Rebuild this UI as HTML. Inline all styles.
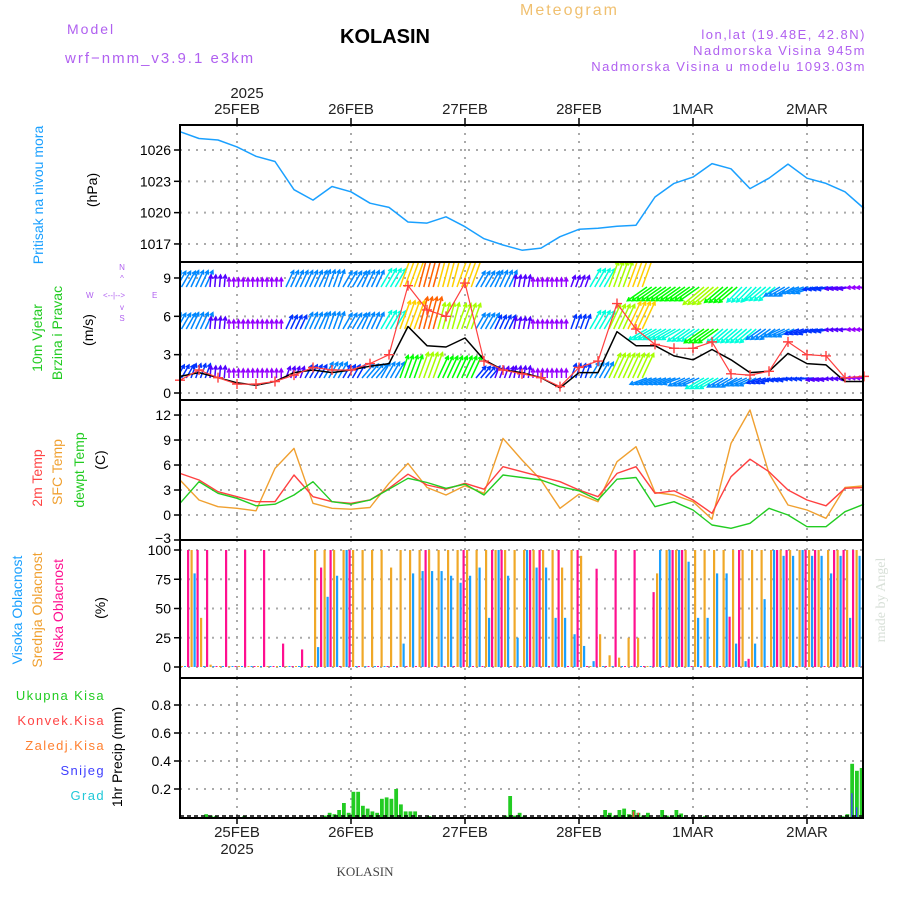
<!DOCTYPE html>
<html><head><meta charset="utf-8"><style>
html,body{margin:0;padding:0;background:#fff;}
svg{display:block;font-family:"Liberation Sans",sans-serif;}
</style></head><body>
<svg id="chart" width="900" height="900" viewBox="0 0 900 900" xmlns="http://www.w3.org/2000/svg">
<defs><clipPath id="windclip"><rect x="181" y="263" width="681" height="136"/></clipPath></defs>
<rect x="0" y="0" width="900" height="900" fill="#fff"/>
<text x="67" y="34" font-size="14" fill="#b060f0" letter-spacing="2">Model</text>
<text x="65" y="63" font-size="15" fill="#b060f0" letter-spacing="2">wrf−nmm_v3.9.1 e3km</text>
<text x="385" y="43" font-size="20" font-weight="bold" fill="#000" text-anchor="middle">KOLASIN</text>
<text x="520" y="15" font-size="16" fill="#f0c070" letter-spacing="2">Meteogram</text>
<text x="866" y="39" font-size="13" fill="#b060f0" text-anchor="end" letter-spacing="1.5">lon,lat (19.48E, 42.8N)</text>
<text x="866" y="55" font-size="13" fill="#b060f0" text-anchor="end" letter-spacing="1.5">Nadmorska Visina 945m</text>
<text x="866" y="71" font-size="13" fill="#b060f0" text-anchor="end" letter-spacing="1.5">Nadmorska Visina u modelu 1093.03m</text>
<text x="247" y="98" font-size="15" fill="#222" text-anchor="middle">2025</text>
<text x="365" y="876" font-size="13" fill="#444" text-anchor="middle" font-family="Liberation Serif,serif">KOLASIN</text>
<text x="0" y="0" font-size="14" fill="#d8e0d8" text-anchor="middle" font-family="Liberation Serif,serif" transform="translate(885,600) rotate(-90)">made by Angel</text>
<g id="labels">
<text transform="translate(43,195) rotate(-90)" font-size="14" fill="#1aa0ff" text-anchor="middle">Pritisak na nivou mora</text>
<text transform="translate(97,190) rotate(-90)" font-size="14" fill="#000" text-anchor="middle">(hPa)</text>
<text transform="translate(42,338) rotate(-90)" font-size="14" fill="#22cc22" text-anchor="middle">10m Vjetar</text>
<text transform="translate(62,333) rotate(-90)" font-size="14" fill="#22cc22" text-anchor="middle">Brzina i Pravac</text>
<text transform="translate(93,330) rotate(-90)" font-size="14" fill="#000" text-anchor="middle">(m/s)</text>
<g font-size="8" fill="#b060f0">
<text x="122" y="270" text-anchor="middle">N</text><text x="122" y="281" text-anchor="middle">^</text>
<text x="86" y="298">W</text><text x="103" y="298">&lt;--|--&gt;</text><text x="152" y="298">E</text>
<text x="122" y="310" text-anchor="middle">v</text><text x="122" y="321" text-anchor="middle">S</text>
</g>
<text transform="translate(42,478) rotate(-90)" font-size="14" fill="#ff4444" text-anchor="middle">2m Temp</text>
<text transform="translate(62,472) rotate(-90)" font-size="14" fill="#f0a030" text-anchor="middle">SFC Temp</text>
<text transform="translate(84,470) rotate(-90)" font-size="14" fill="#22cc22" text-anchor="middle">dewpt Temp</text>
<text transform="translate(105,460) rotate(-90)" font-size="14" fill="#000" text-anchor="middle">(C)</text>
<text transform="translate(22,610) rotate(-90)" font-size="14" fill="#1aa0ff" text-anchor="middle">Visoka Oblacnost</text>
<text transform="translate(42,610) rotate(-90)" font-size="14" fill="#f0a030" text-anchor="middle">Srednja Oblacnost</text>
<text transform="translate(63,610) rotate(-90)" font-size="14" fill="#ff1090" text-anchor="middle">Niska Oblacnost</text>
<text transform="translate(105,608) rotate(-90)" font-size="14" fill="#000" text-anchor="middle">(%)</text>
<text x="105" y="700" font-size="13" fill="#22cc22" text-anchor="end" letter-spacing="1.4">Ukupna Kisa</text>
<text x="105" y="725" font-size="13" fill="#ff4444" text-anchor="end" letter-spacing="1.4">Konvek.Kisa</text>
<text x="105" y="750" font-size="13" fill="#ff8030" text-anchor="end" letter-spacing="1.4">Zaledj.Kisa</text>
<text x="105" y="775" font-size="13" fill="#4040ff" text-anchor="end" letter-spacing="1.4">Snijeg</text>
<text x="105" y="800" font-size="13" fill="#20c8d8" text-anchor="end" letter-spacing="1.4">Grad</text>
<text transform="translate(122,757) rotate(-90)" font-size="14" fill="#000" text-anchor="middle">1hr Precip (mm)</text>
</g>
</svg>
<script>
// ---- data ----
const dayLabels = ["25FEB","26FEB","27FEB","28FEB","1MAR","2MAR"];
const pressure = [1027.75,1027.1,1026.96,1026.3,1025.4,1024.9,1022.2,1021.2,1022.5,1022.0,1020.9,1020.5,1019.1,1019.0,1019.6,1018.65,1017.5,1016.9,1016.4,1016.6,1017.7,1018.4,1018.5,1018.7,1018.8,1021.5,1022.8,1023.4,1024.7,1024.2,1022.3,1023.3,1024.65,1023.3,1022.8,1022.0,1020.4];
const pressureTicks = [1017,1020,1023,1026];
const wind10m = [1.3,1.6,1.2,0.8,0.6,0.9,1.6,1.8,1.6,1.8,2.1,2.3,5.2,3.7,3.6,4.3,2.6,1.8,1.6,1.2,0.4,1.6,1.6,4.8,3.7,3.7,2.9,2.6,3.4,2.6,1.6,1.7,3.1,2.3,2.2,0.9,0.9];
const gust = [1.0,1.8,1.2,0.7,0.7,0.9,1.4,2.0,1.8,1.8,2.3,3.0,8.4,6.5,6.0,8.6,2.5,1.8,1.5,1.2,0.5,2.0,2.5,7.0,5.0,3.8,3.5,3.5,4.0,1.5,1.4,1.7,4.0,3.0,2.9,1.2,1.3];
const windTicks = [0,3,6,9];
const dirTop = [30,25,5,0,0,0,25,25,20,30,25,30,20,15,15,20,30,25,10,0,0,20,30,20,20,235,235,235,230,230,225,230,240,250,260,260,265];
const spdTop = [4,4,2,1,1,1,4,4,4,4,4,5,8,9,8,8,4,4,2,1,1,2,5,7,8,6,6,6,7,6,5,5,4,4,3,2,1];
const dirMid = [30,25,5,0,0,0,25,25,20,30,25,30,20,15,15,20,30,25,10,0,0,20,30,25,25,240,240,235,235,230,230,235,245,250,260,265,265];
const spdMid = [4,4,2,1,1,1,3,4,4,4,4,5,8,9,7,7,4,3,2,1,1,3,5,7,8,5,5,5,6,5,5,4,4,3,3,2,1];
const dirBot = [30,20,5,0,0,0,20,30,30,30,40,30,20,20,25,25,40,20,10,0,0,20,30,25,25,250,250,245,240,240,245,250,260,265,260,265,270];
const spdBot = [3,3,2,1,1,1,2,3,4,3,4,4,6,7,6,6,3,2,2,1,1,3,4,7,7,4,4,4,5,4,4,3,3,3,2,2,1];
const temp2m = [5.0,4.2,2.8,2.2,1.6,1.6,4.8,2.2,1.6,1.4,1.8,3.2,4.9,3.6,3.1,3.8,3.1,5.8,5.2,4.6,4.0,3.0,2.2,5.0,5.8,2.6,2.9,1.8,0.2,4.6,6.7,5.2,3.0,1.8,1.1,3.2,3.3];
const tempSfc = [4.2,1.8,1.0,0.8,0.5,5.6,8.0,1.4,0.8,0.7,0.9,3.8,6.2,3.3,2.4,3.5,2.6,9.2,6.6,4.2,0.8,2.5,1.6,6.4,8.2,2.7,2.4,1.6,-0.5,8.6,12.6,5.0,1.2,0.6,-0.4,3.3,3.5];
const dewpt = [1.4,4.0,2.6,2.0,1.1,1.3,2.4,4.0,1.6,1.3,1.8,3.1,4.4,3.9,3.2,3.7,2.4,4.8,4.5,4.2,3.4,2.9,1.8,4.3,4.5,1.0,1.6,0.6,-1.2,-1.6,-1.0,0.8,0,-1.4,-1.4,0.4,1.3];
const tempTicks = [-3,0,3,6,9,12];
const cloudLow = [100,100,100,0,100,0,100,0,100,0,20,0,15,0,85,100,0,100,0,0,0,0,0,0,0,100,0,0,0,100,0,0,100,100,0,0,100,100,0,100,0,100,0,84,0,100,0,100,0,64,0,100,100,0,0,0,0,43,100,7,0,0,100,100,0,100,100,0,100,100,100,0];
const cloudMid = [0,100,42,2,0,0,0,0,0,0,0,0,0,0,100,100,100,100,100,100,100,100,85,100,100,100,100,100,100,100,100,100,100,100,100,100,100,100,100,100,85,100,95,0,28,10,8,25,25,0,80,100,100,100,100,100,100,100,100,100,100,100,100,100,100,100,100,100,100,100,100,100];
const cloudHigh = [0,80,0,0,0,0,0,0,0,0,0,0,0,0,17,60,78,100,0,0,0,0,0,20,80,82,82,82,78,72,78,85,42,100,78,25,100,85,85,42,42,28,18,5,0,0,0,0,0,0,100,100,100,90,42,42,80,80,20,5,20,58,100,95,95,100,95,95,80,95,42,95];
const cloudTicks = [0,25,50,75,100];
const precipTotal = [0,0,0,0,0,0.02,0.01,0.005,0,0,0,0,0,0.005,0,0,0,0,0,0,0,0,0,0,0,0,0,0,0,0,0.01,0.03,0.02,0.05,0.1,0.03,0.18,0.18,0.08,0.06,0.04,0.03,0.13,0.14,0.13,0.2,0.09,0.04,0.04,0.04,0,0,0.005,0,0,0,0,0,0,0,0,0,0,0,0,0,0,0,0.01,0.15,0.01,0.03,0.005,0,0,0,0,0,0,0,0,0,0,0,0,0,0,0,0,0.05,0.03,0.01,0.05,0.06,0.02,0.05,0.03,0.01,0.03,0,0,0.05,0.01,0.01,0.05,0.025,0,0,0,0,0.005,0,0,0,0,0,0,0,0,0,0,0,0,0,0,0,0,0,0,0,0,0,0,0,0,0,0,0,0,0.005,0.02,0.38,0.33,0.35];
const precipConv = {95:0.04,96:0.03};
const precipSnow = {141:0.17,142:0.07};
const precipTicks = [0.2,0.4,0.6,0.8];

// ---- layout ----
const svg = document.getElementById('chart');
const NS = 'http://www.w3.org/2000/svg';
const X0 = 180, X1 = 863, PXH = 4.75;
function xh(h){ return X0 + h*PXH; }
function mk(tag, attrs, parent){ const e=document.createElementNS(NS,tag); for(const k in attrs) e.setAttribute(k,attrs[k]); (parent||svg).appendChild(e); return e; }
const panels = [
  {top:125,bot:262, y:v=>150+(1026-v)*10.44, ticks:pressureTicks, fmt:v=>String(v), name:'pressure'},
  {top:262,bot:400, y:v=>393-v*12.78, ticks:windTicks, fmt:v=>String(v), name:'wind'},
  {top:400,bot:540, y:v=>515-v*8.33, ticks:tempTicks, fmt:v=>v<0?'−'+(-v):String(v), name:'temp'},
  {top:540,bot:678, y:v=>667-v*1.17, ticks:cloudTicks, fmt:v=>String(v), name:'cloud'},
  {top:678,bot:818, y:v=>817-v*140, ticks:precipTicks, fmt:v=>String(v), name:'precip'}
];
const gridG = mk('g',{});


panels.forEach(p=>{
  dayLabels.forEach((d,i)=>{
    const x = xh(12+24*i);
    const l = mk('line',{x1:x,x2:x,y1:p.top,y2:p.bot,stroke:'#aaa','stroke-width':2,'stroke-dasharray':'2,6'},gridG);
    
    
  });
  p.ticks.forEach(v=>{
    const y = p.y(v);
    const l = mk('line',{x1:X0,x2:X1,y1:y,y2:y,stroke:'#aaa','stroke-width':2,'stroke-dasharray':'2,6'},gridG);
    
    
    const tk = mk('line',{x1:X0-6,x2:X0,y1:y,y2:y,stroke:'#000','stroke-width':1.5});
    
    
    const t = mk('text',{x:X0-9,y:y+5-(v===-3?2:0),'font-size':14,'text-anchor':'end',fill:'#000'});
    t.textContent = p.fmt(v);
    
    
  });
});
dayLabels.forEach((d,i)=>{
  const x = xh(12+24*i);
  const t1 = mk('text',{x:x,y:114,'font-size':15,'text-anchor':'middle',fill:'#222'});
  t1.textContent=d;
  
  
  const t2 = mk('text',{x:x,y:837,'font-size':15,'text-anchor':'middle',fill:'#222'});
  t2.textContent=d;
  
  
  [[118,124],[818,824]].forEach(([a,b])=>{ const tk=mk('line',{x1:x,x2:x,y1:a,y2:b,stroke:'#000','stroke-width':1.5});
    
     });
});
const yr = mk('text',{x:xh(12),y:854,'font-size':15,'text-anchor':'middle',fill:'#222'});
yr.textContent='2025';



function line(vals, step, yf, color, w, name){
  const pts = vals.map((v,i)=>xh(i*step).toFixed(1)+','+yf(v).toFixed(1)).join(' ');
  const e = mk('polyline',{points:pts,fill:'none',stroke:color,'stroke-width':w,'stroke-linejoin':'round'});
  
  
  return e;
}
line(pressure,4,panels[0].y,'#1aa0ff',1.5,'pressure-line');

// wind arrows
const hueStops = [[0,275],[1.5,275],[3,228],[4.5,198],[6,120],[7.5,62],[8.5,35],[10,0]];
function windColor(s){
  let h = 0;
  for(let i=0;i<hueStops.length-1;i++){ const [a,ha]=hueStops[i],[b,hb]=hueStops[i+1]; if(s<=b){ h = ha+(hb-ha)*Math.max(0,(s-a))/(b-a); break; } }
  return 'hsl('+h.toFixed(0)+',100%,50%)';
}
const windG = mk('g',{'clip-path':'url(#windclip)'});


function arrows(dirs, spds, by, name){
  dirs.forEach((d,i)=>{
    const x = xh(i*4), s = spds[i], L = 6 + s*3;
    const a = d*Math.PI/180, dx = Math.sin(a)*L, dy = -Math.cos(a)*L;
    const c = windColor(s);
    const g = mk('g',{stroke:c,'stroke-width':1.5,fill:'none'},windG);
    
    
    for(let j=0;j<4;j++){
      const ox = x + j*4.75 - 8;
      mk('line',{x1:ox,y1:by,x2:ox+dx,y2:by+dy},g);
      const hx = ox+dx, hy = by+dy;
      const a1 = a+Math.PI-0.5, a2 = a+Math.PI+0.5;
      mk('polyline',{points:(hx+Math.sin(a1)*4)+','+(hy-Math.cos(a1)*4)+' '+hx+','+hy+' '+(hx+Math.sin(a2)*4)+','+(hy-Math.cos(a2)*4)},g);
    }
  });
}
arrows(dirTop,spdTop,287,'wind-arrow-top');
arrows(dirMid,spdMid,329,'wind-arrow-mid');
arrows(dirBot,spdBot,378,'wind-arrow-bottom');
line(wind10m,4,panels[1].y,'#000',1.5,'wind-speed-line');
line(gust,4,panels[1].y,'#ff4040',1.2,'gust-line');
gust.forEach((v,i)=>{
  const x=xh(i*4), y=panels[1].y(v);
  const p = mk('path',{d:'M'+(x-5)+' '+y+'h10M'+x+' '+(y-5)+'v10',stroke:'#ff4040','stroke-width':1.4});
  
  
});

// temperature
line(tempSfc,4,panels[2].y,'#f0a030',1.4,'sfc-temp-line');
line(temp2m,4,panels[2].y,'#ff4040',1.4,'temp-2m-line');
line(dewpt,4,panels[2].y,'#22cc22',1.4,'dewpt-line');

// clouds
function cbars(vals, off, color, name){
  vals.forEach((v,i)=>{
    if(v<=0){ const z=mk('rect',{x:xh(i*2)+off,y:666,width:2,height:1,fill:color});   return; }
    const y = panels[3].y(v);
    const r = mk('rect',{x:xh(i*2)+off,y:y,width:2.2,height:667-y,fill:color});
    
    
  });
}
cbars(cloudMid,1,'#f0a828','mid-cloud-bar');
cbars(cloudHigh,4,'#1aa0ff','high-cloud-bar');
cbars(cloudLow,7,'#ff1090','low-cloud-bar');

// precip
precipTotal.forEach((v,i)=>{
  if(v<=0) return;
  const y = panels[4].y(v);
  const r = mk('rect',{x:xh(i)+0.5,y:y,width:3.8,height:817-y,fill:'#22cc22'});
  
  
});
Object.keys(precipConv).forEach(k=>{
  const y = panels[4].y(precipConv[k]);
  const r = mk('rect',{x:xh(+k)+1.5,y:y,width:1.5,height:817-y,fill:'#ff4040'});
  
  
});
Object.keys(precipSnow).forEach(k=>{
  const y = panels[4].y(precipSnow[k]);
  const r = mk('rect',{x:xh(+k)+1.5,y:y,width:1.3,height:817-y,fill:'#4040ff'});
  
  
});
const base = mk('line',{x1:X0,x2:X1,y1:816,y2:816,stroke:'#000','stroke-width':1.5,'stroke-dasharray':'4,3'});



panels.forEach(p=>{
  const r = mk('rect',{x:X0,y:p.top,width:X1-X0,height:p.bot-p.top,fill:'none',stroke:'#000','stroke-width':2});
  
  
});
</script>
</body></html>
